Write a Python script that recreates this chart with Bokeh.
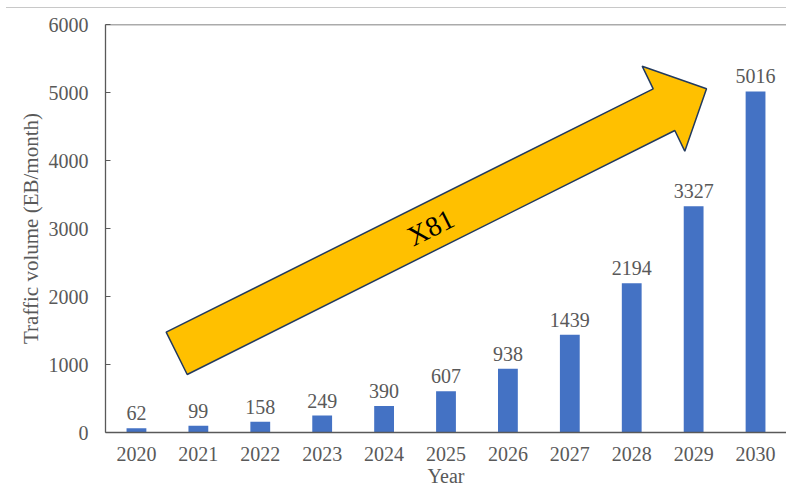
from bokeh.plotting import figure
from bokeh.models import (ColumnDataSource, Range1d, FixedTicker,
                          Span, Label, Div)
from bokeh.layouts import column
from bokeh.embed import file_html
from bokeh.resources import INLINE
from bokeh.core.properties import value

# ---- data ----
years = ["2020", "2021", "2022", "2023", "2024", "2025",
         "2026", "2027", "2028", "2029", "2030"]
traffic = [62, 99, 158, 249, 390, 607, 938, 1439, 2194, 3327, 5016]
y_ticks = [0, 1000, 2000, 3000, 4000, 5000, 6000]

# arrow outline (x in category-index units, y in EB/month)
arrow_x = [0.48, 8.347, 8.169, 9.208, 8.857, 8.696, 0.82]
arrow_y = [1475, 5054, 5387, 5054, 4137, 4441, 853]
arrow_text = "X81"
x_title = "Year"
y_title = "Traffic volume (EB/month)"

FONT = "Liberation Serif"
GRAY = "#595959"

idx = list(range(len(years)))
src = ColumnDataSource(dict(x=idx, traffic=traffic,
                            label=[str(v) for v in traffic]))

p = figure(width=786, height=485, output_backend="svg", toolbar_location=None,
           x_range=Range1d(-0.5, len(years) - 0.5), y_range=Range1d(0, 6000),
           min_border_left=105, min_border_right=0, min_border_top=16,
           min_border_bottom=61)
p.outline_line_color = None
p.xgrid.grid_line_color = None
p.ygrid.grid_line_color = None
p.background_fill_color = "white"
p.border_fill_color = "white"

p.vbar(x="x", top="traffic", width=0.32, source=src,
       fill_color="#4472C4", line_color=None)
p.text(x="x", y="traffic", text="label", source=src,
       text_align="center", text_baseline="alphabetic", y_offset=-15,
       text_font=value(FONT), text_font_size="20px", text_color=GRAY)

p.patch(arrow_x, arrow_y, fill_color="#FFC000",
        line_color="#223A5E", line_width=1.5)

ang = 0.4636  # atan(0.5)
p.add_layout(Label(x=4.75, y=3015, text=arrow_text,
                   angle=ang, text_align="center", text_baseline="middle",
                   text_font=FONT, text_font_size="28px", text_color="#000000"))

# top frame line
p.add_layout(Span(location=6000, dimension="width", line_color=GRAY,
                  line_width=1.3))

# axes
xa = p.xaxis[0]
xa.ticker = FixedTicker(ticks=idx)
xa.major_label_overrides = {i: y for i, y in zip(idx, years)}
xa.axis_label = x_title
xa.major_tick_line_color = None
xa.minor_tick_line_color = None
xa.major_tick_in = 0
xa.major_tick_out = 0
xa.axis_line_color = GRAY
xa.axis_line_width = 1.3
xa.major_label_standoff = 14
xa.axis_label_standoff = 1
xa.major_label_text_font = FONT
xa.major_label_text_font_size = "20px"
xa.major_label_text_color = GRAY
xa.axis_label_text_font = FONT
xa.axis_label_text_font_size = "20px"
xa.axis_label_text_color = GRAY
xa.axis_label_text_font_style = "normal"

ya = p.yaxis[0]
ya.ticker = FixedTicker(ticks=y_ticks)
ya.axis_label = y_title
ya.major_tick_in = 5
ya.major_tick_out = 0
ya.minor_tick_line_color = None
ya.major_tick_line_color = GRAY
ya.axis_line_color = GRAY
ya.axis_line_width = 1.3
ya.major_label_standoff = 17
ya.axis_label_standoff = 3
ya.major_label_text_font = FONT
ya.major_label_text_font_size = "20px"
ya.major_label_text_color = GRAY
ya.axis_label_text_font = FONT
ya.axis_label_text_font_size = "21px"
ya.axis_label_text_color = GRAY
ya.axis_label_text_font_style = "normal"

top_rule = Div(text="", width=786, height=8,
               styles={"box-sizing": "border-box", "margin": "0",
                       "border-bottom": "1px solid #c8c8c8",
                       "margin-left": "6px", "width": "780px",
                       "background": "white"})

layout = column(top_rule, p, spacing=0)
open("out.html", "w").write(file_html(layout, INLINE))
